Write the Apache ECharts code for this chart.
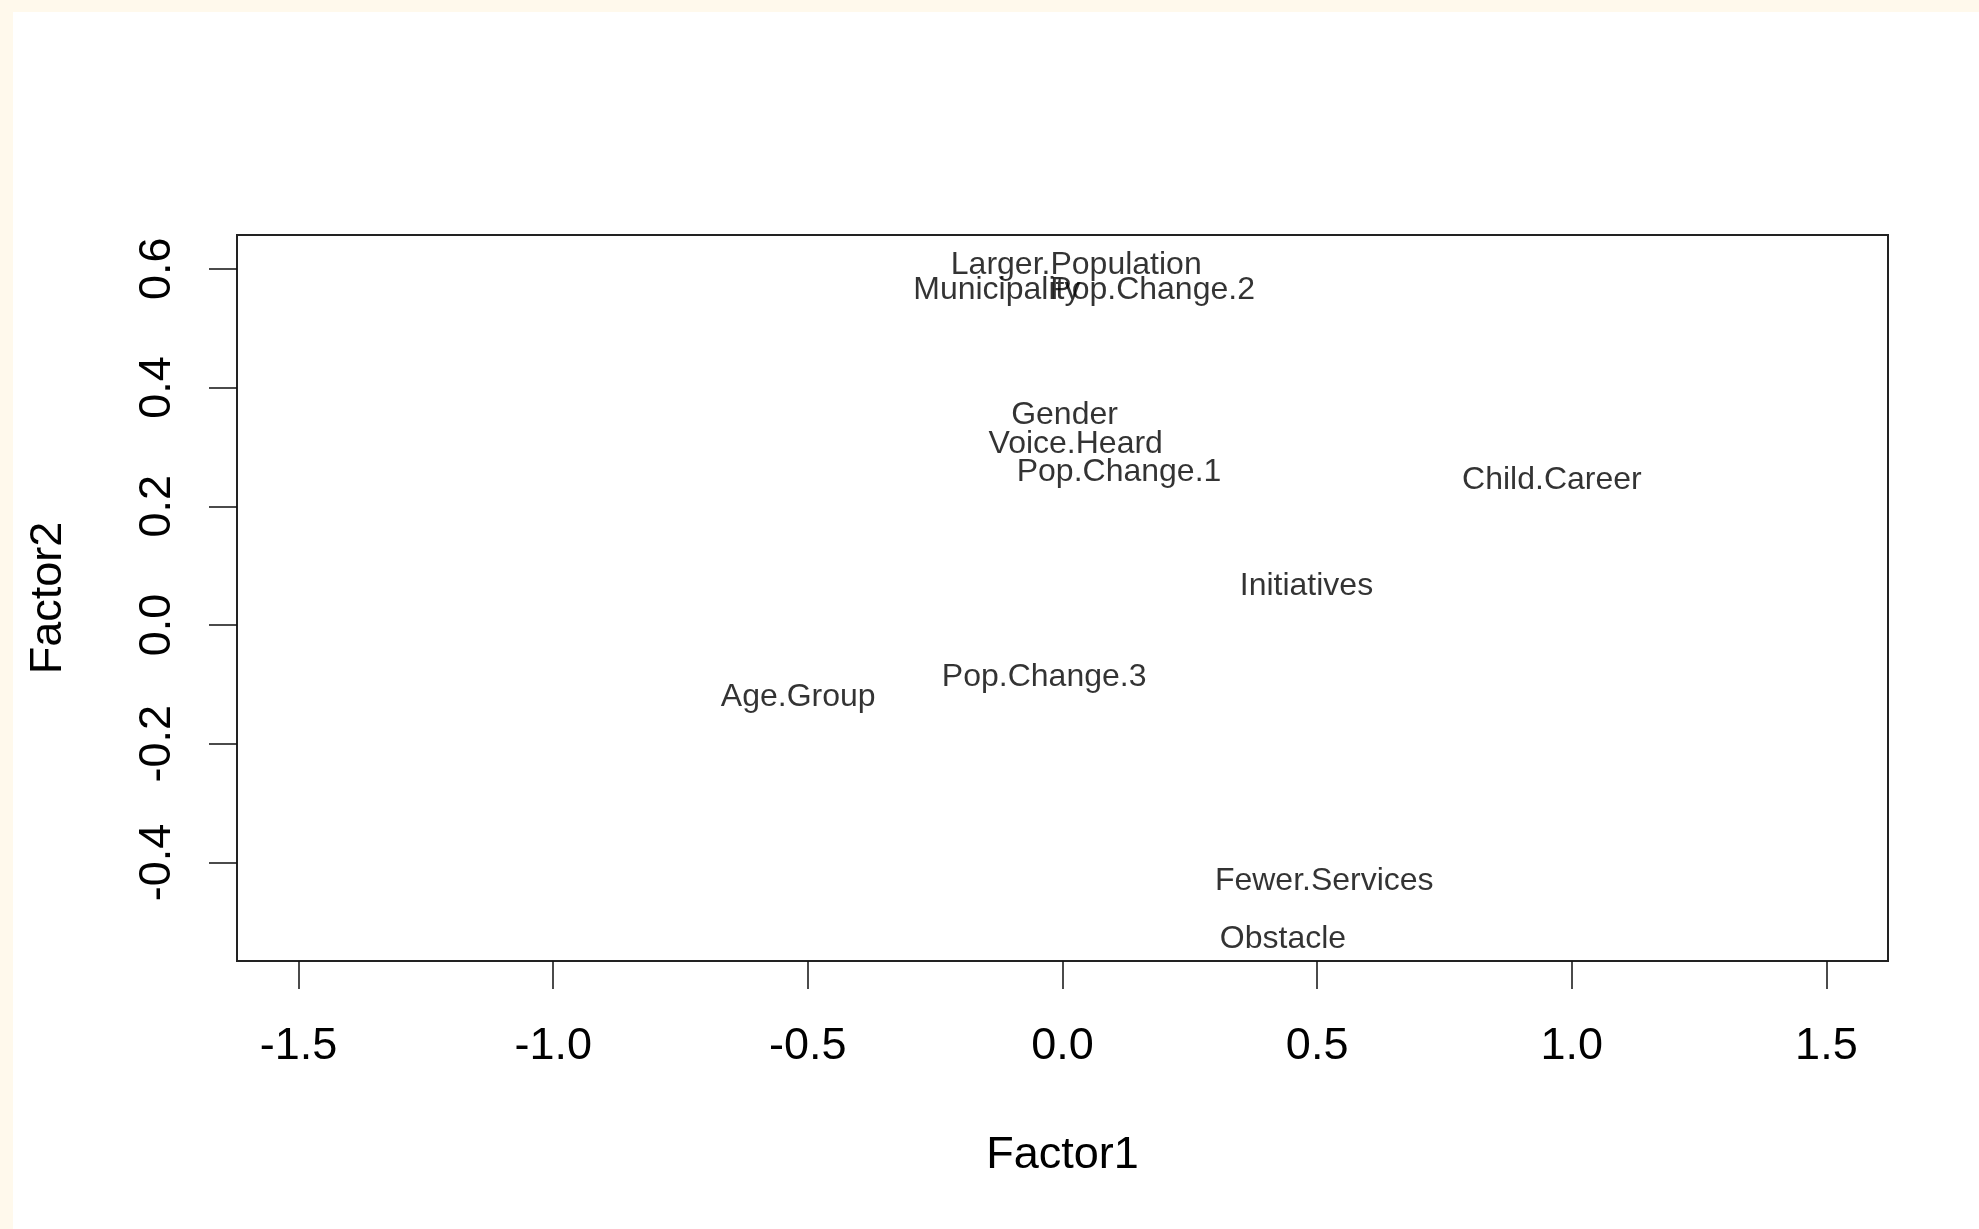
<!DOCTYPE html>
<html>
<head>
<meta charset="utf-8">
<script src="https://cdn.jsdelivr.net/npm/echarts@6/dist/echarts.min.js"></script>
<style>
  html, body {
    margin: 0;
    padding: 0;
    width: 1979px;
    height: 1229px;
    background-color: #fff9ec;
    overflow: hidden;
  }
  #chart {
    position: absolute;
    left: 13px;
    top: 12px;
    width: 1966px;
    height: 1217px;
    background-color: #fff;
  }
</style>
</head>
<body>
<div id="chart"></div>
<script>
const labels = ['Larger.Population', 'Municipality', 'Pop.Change.2', 'Gender', 'Voice.Heard', 'Pop.Change.1',
  'Child.Career', 'Initiatives', 'Pop.Change.3', 'Age.Group', 'Fewer.Services', 'Obstacle']
const factor1 = [0.027, -0.129, 0.177, 0.004, 0.026, 0.111, 0.961, 0.479, -0.036, -0.519, 0.514, 0.433]
const factor2 = [0.611, 0.569, 0.569, 0.358, 0.309, 0.263, 0.249, 0.070, -0.082, -0.116, -0.426, -0.525]
const xTicks = [-1.5, -1.0, -0.5, 0.0, 0.5, 1.0, 1.5]
const yTicks = [-0.4, -0.2, 0.0, 0.2, 0.4, 0.6]

const font = "'Liberation Sans', Arial, sans-serif"

const chart = echarts.init(document.getElementById('chart'))

const option = {
  animation: false,
  grid: {
    show: true,
    left: 224,
    top: 223,
    right: 91,
    bottom: 268,
    borderColor: '#222',
    borderWidth: 2,
    backgroundColor: 'transparent'
  },
  xAxis: {
    type: 'value',
    min: -1.621,
    max: 1.621,
    name: 'Factor1',
    nameLocation: 'middle',
    nameGap: 172,
    nameTextStyle: { fontFamily: font, fontSize: 45, color: '#000' },
    // 轴线由网格边框代替，刻度放在底边
    axisLine: { show: false, onZero: false },
    axisTick: {
      show: true,
      length: 28,
      customValues: xTicks,
      lineStyle: { color: '#111', width: 1.5 }
    },
    axisLabel: {
      customValues: xTicks,
      margin: 63,
      fontFamily: font,
      fontSize: 45,
      color: '#000',
      formatter: v => v.toFixed(1)
    },
    splitLine: { show: false }
  },
  yAxis: {
    type: 'value',
    min: -0.566,
    max: 0.657,
    name: 'Factor2',
    nameLocation: 'middle',
    nameGap: 166,
    nameTextStyle: { fontFamily: font, fontSize: 45, color: '#000' },
    axisLine: { show: false, onZero: false },
    axisTick: {
      show: true,
      length: 28,
      customValues: yTicks,
      lineStyle: { color: '#111', width: 1.5 }
    },
    axisLabel: {
      customValues: yTicks,
      rotate: 90,
      margin: 57,
      fontFamily: font,
      fontSize: 45,
      color: '#000',
      formatter: v => v.toFixed(1)
    },
    splitLine: { show: false }
  },
  series: [{
    type: 'scatter',
    symbolSize: 0,
    data: labels.map((name, i) => ({ name, value: [factor1[i], factor2[i]] })),
    label: {
      show: true,
      position: 'inside',
      offset: [0, 3],
      formatter: p => p.name,
      fontFamily: font,
      fontSize: 32,
      color: '#000'
    }
  }]
}

chart.setOption(option)
</script>
</body>
</html>
